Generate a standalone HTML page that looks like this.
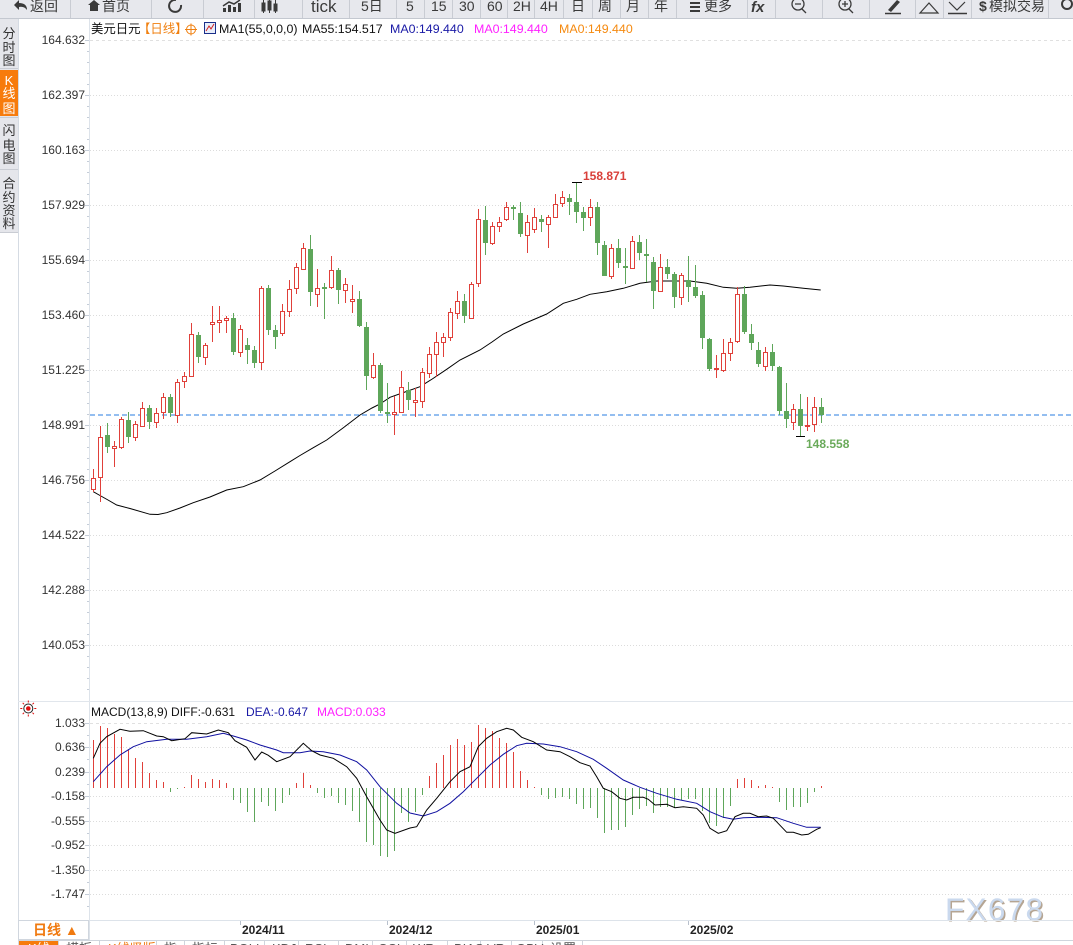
<!DOCTYPE html>
<html><head><meta charset="utf-8"><style>
html,body{margin:0;padding:0;background:#fff;overflow:hidden;}
#w{position:relative;width:1073px;height:945px;overflow:hidden;background:#fff;}
svg text{font-family:"Liberation Sans","Noto Sans CJK SC",sans-serif;}
</style></head><body><div id="w">
<svg width="1073" height="945" viewBox="0 0 1073 945" xmlns="http://www.w3.org/2000/svg">
<!-- toolbar -->
<rect x="0" y="0" width="1073" height="18" fill="#e7e8ed"/>
<line x1="0" y1="18.5" x2="1073" y2="18.5" stroke="#c4c8d0"/>
<g stroke="#c9ccd3" stroke-width="1">
<line x1="70.5" y1="0" x2="70.5" y2="18"/><line x1="151.5" y1="0" x2="151.5" y2="18"/><line x1="203.5" y1="0" x2="203.5" y2="18"/><line x1="254.5" y1="0" x2="254.5" y2="18"/><line x1="302.5" y1="0" x2="302.5" y2="18"/><line x1="349.5" y1="0" x2="349.5" y2="18"/><line x1="396.5" y1="0" x2="396.5" y2="18"/><line x1="424.5" y1="0" x2="424.5" y2="18"/><line x1="452.5" y1="0" x2="452.5" y2="18"/><line x1="480.5" y1="0" x2="480.5" y2="18"/><line x1="507.5" y1="0" x2="507.5" y2="18"/><line x1="534.5" y1="0" x2="534.5" y2="18"/><line x1="563.5" y1="0" x2="563.5" y2="18"/><line x1="592.5" y1="0" x2="592.5" y2="18"/><line x1="620.5" y1="0" x2="620.5" y2="18"/><line x1="648.5" y1="0" x2="648.5" y2="18"/><line x1="676.5" y1="0" x2="676.5" y2="18"/><line x1="747.5" y1="0" x2="747.5" y2="18"/><line x1="775.5" y1="0" x2="775.5" y2="18"/><line x1="822.5" y1="0" x2="822.5" y2="18"/><line x1="869.5" y1="0" x2="869.5" y2="18"/><line x1="915.5" y1="0" x2="915.5" y2="18"/><line x1="943.5" y1="0" x2="943.5" y2="18"/><line x1="971.5" y1="0" x2="971.5" y2="18"/><line x1="1048.5" y1="0" x2="1048.5" y2="18"/>
</g>
<g fill="#3a3a3a" font-size="14">
<path d="M14 5 L19 0 L19 3 Q27 3 27 10 Q24 6 19 7 L19 10 Z" fill="#3a3a3a"/>
<text x="30" y="11">返回</text>
<path d="M88 5 L94 0 L100 5 L98 5 L98 11 L90 11 L90 5 Z" fill="#3a3a3a"/>
<text x="102" y="11">首页</text>
<path d="M181 5 A6 6 0 1 1 176 0" fill="none" stroke="#3a3a3a" stroke-width="2"/>
<path d="M223 12 h3 v-4 h-3z M228 12 h3 v-7 h-3z M233 12 h3 v-5 h-3z M238 12 h3 v-9 h-3z" fill="#3a3a3a"/>
<path d="M223 6 L229 2 L234 4 L240 0" fill="none" stroke="#3a3a3a" stroke-width="1.5"/>
<path d="M262 3 h3 v8 h-3z M268 1 h3 v9 h-3z M274 4 h3 v7 h-3z M263.5 0 V13 M269.5 0 V13 M275.5 0 V13" fill="#3a3a3a" stroke="#3a3a3a"/>
<text x="311" y="12" font-size="17">tick</text>
<text x="361" y="11">5日</text>
<text x="406" y="11">5</text>
<text x="431" y="11">15</text>
<text x="459" y="11">30</text>
<text x="487" y="11">60</text>
<text x="513" y="11">2H</text>
<text x="540" y="11">4H</text>
<text x="571" y="11">日</text>
<text x="598" y="11">周</text>
<text x="626" y="11">月</text>
<text x="654" y="11">年</text>
<path d="M690 2 h10 v2 h-10z M690 6 h10 v2 h-10z M690 10 h10 v2 h-10z"/>
<text x="704" y="11">更多</text>
<text x="751" y="12" font-weight="bold" font-style="italic" font-size="15">fx</text>
<circle cx="798" cy="4" r="6" fill="none" stroke="#3a3a3a" stroke-width="1.3"/><path d="M795 4 h6 M802 9 l4 4" stroke="#3a3a3a" stroke-width="1.3"/>
<circle cx="845" cy="4" r="6" fill="none" stroke="#3a3a3a" stroke-width="1.3"/><path d="M842 4 h6 M845 1 v6 M849 9 l4 4" stroke="#3a3a3a" stroke-width="1.3"/>
<path d="M888 10 L897 0 L900 2 L891 12 Z" fill="#3a3a3a"/><path d="M885 13.5 h16" stroke="#3a3a3a" stroke-width="1.5"/>
<path d="M920 13 L929 3 L938 13 Z" fill="none" stroke="#3a3a3a" stroke-width="1.2"/>
<path d="M949 2 L957 10 L965 2" fill="none" stroke="#3a3a3a" stroke-width="1.2"/><path d="M948 13.5 h19" stroke="#3a3a3a" stroke-width="1.5"/>
<text x="979" y="11" font-weight="bold">$</text><text x="989" y="11">模拟交易</text>
<circle cx="1067" cy="4" r="5" fill="none" stroke="#3a3a3a" stroke-width="2"/>
</g>
<!-- left sidebar -->
<rect x="0" y="19" width="18" height="213" fill="#e5e6eb"/>
<rect x="0" y="70" width="18" height="46" fill="#f77b0c"/>
<g stroke="#c9ccd3"><line x1="0" y1="68.5" x2="18" y2="68.5"/><line x1="0" y1="117.5" x2="18" y2="117.5"/><line x1="0" y1="169.5" x2="18" y2="169.5"/><line x1="0" y1="232.5" x2="18" y2="232.5"/></g>
<line x1="18.5" y1="19" x2="18.5" y2="945" stroke="#d5dbe3"/>
<g font-size="13" text-anchor="middle" fill="#333">
<text x="9" y="38">分</text><text x="9" y="52">时</text><text x="9" y="65">图</text>
<text x="9" y="85" fill="#fff">K</text><text x="9" y="98" fill="#fff">线</text><text x="9" y="113" fill="#fff">图</text>
<text x="9" y="135">闪</text><text x="9" y="150">电</text><text x="9" y="163">图</text>
<text x="9" y="188">合</text><text x="9" y="202">约</text><text x="9" y="215">资</text><text x="9" y="228">料</text>
</g>
<!-- axis line -->
<line x1="89.5" y1="19" x2="89.5" y2="940" stroke="#dde3ea"/>
<!-- price grid -->
<g stroke="#dcdcdc" stroke-dasharray="1,2">
<line x1="90" y1="95.5" x2="1073" y2="95.5"/><line x1="90" y1="150.5" x2="1073" y2="150.5"/><line x1="90" y1="205.5" x2="1073" y2="205.5"/><line x1="90" y1="260.5" x2="1073" y2="260.5"/><line x1="90" y1="315.5" x2="1073" y2="315.5"/><line x1="90" y1="370.5" x2="1073" y2="370.5"/><line x1="90" y1="425.5" x2="1073" y2="425.5"/><line x1="90" y1="480.5" x2="1073" y2="480.5"/><line x1="90" y1="535.5" x2="1073" y2="535.5"/><line x1="90" y1="590.5" x2="1073" y2="590.5"/><line x1="90" y1="645.5" x2="1073" y2="645.5"/>
</g>
<line x1="90" y1="40.5" x2="1073" y2="40.5" stroke="#e0e0e0" stroke-dasharray="3,3"/>
<!-- price axis ticks -->
<g stroke="#c5cdd8">
<path d="M85 40.5h4M85 95.5h4M85 150.5h4M85 205.5h4M85 260.5h4M85 315.5h4M85 370.5h4M85 425.5h4M85 480.5h4M85 535.5h4M85 590.5h4M85 645.5h4"/>
<path d="M87 51.5h2M87 62.5h2M87 73.5h2M87 84.5h2M87 106.5h2M87 117.5h2M87 128.5h2M87 139.5h2M87 161.5h2M87 172.5h2M87 183.5h2M87 194.5h2M87 216.5h2M87 227.5h2M87 238.5h2M87 249.5h2M87 271.5h2M87 282.5h2M87 293.5h2M87 304.5h2M87 326.5h2M87 337.5h2M87 348.5h2M87 359.5h2M87 381.5h2M87 392.5h2M87 403.5h2M87 414.5h2M87 436.5h2M87 447.5h2M87 458.5h2M87 469.5h2M87 491.5h2M87 502.5h2M87 513.5h2M87 524.5h2M87 546.5h2M87 557.5h2M87 568.5h2M87 579.5h2M87 601.5h2M87 612.5h2M87 623.5h2M87 634.5h2M87 656.5h2M87 667.5h2M87 678.5h2M87 689.5h2"/>
</g>
<g font-size="12" fill="#333" text-anchor="end">
<text x="85" y="44">164.632</text><text x="85" y="99">162.397</text><text x="85" y="154">160.163</text><text x="85" y="209">157.929</text><text x="85" y="264">155.694</text><text x="85" y="319">153.460</text><text x="85" y="374">151.225</text><text x="85" y="429">148.991</text><text x="85" y="484">146.756</text><text x="85" y="539">144.522</text><text x="85" y="594">142.288</text><text x="85" y="649">140.053</text>
</g>
<!-- legend -->
<g font-size="12.4">
<text x="91" y="33" fill="#111">美元日元</text>
<text x="138" y="33" fill="#f08010">【日线】</text>
<circle cx="191" cy="29.5" r="4.5" fill="none" stroke="#f08010"/><path d="M185 29.5h12M191 23.5v12" stroke="#f08010"/>
<rect x="204.5" y="22.5" width="11" height="11" fill="#e8eefa" stroke="#1a2f8a"/>
<path d="M206 31 L209 26 L211 29 L214 24" fill="none" stroke="#d02020"/>
<text x="219" y="33" fill="#111">MA1(55,0,0,0)</text>
<text x="302" y="33" fill="#111">MA55:154.517</text>
<text x="390" y="33" fill="#1a1aa6">MA0:149.440</text>
<text x="474" y="33" fill="#ff20ff">MA0:149.440</text>
<text x="559" y="33" fill="#f58a10">MA0:149.440</text>
</g>
<!-- last price dashed -->
<line x1="90" y1="415" x2="1073" y2="415" stroke="#2a7de0" stroke-dasharray="5,3"/>
<!-- MA55 -->
<polyline fill="none" stroke="#000" stroke-width="1" points="93.3,491.7 100,495.5 108,500 116.7,505 130,508.5 150,514.3 158,514.5 166.7,512.7 180,508 193.3,502.7 210,497 226.7,490 243.3,486.7 260,480 275,471 290,461.7 300,455.5 313.3,447.7 326.7,440 343,428 360,415 372,408 380,404 390,397.3 405,392 420,386.7 433,378.5 446.7,369.3 460,360 480,350 492,342 503.3,334 523.3,324 546.7,314 563.3,303.3 576.7,299.3 590,294.3 606.7,291.7 623.3,288.3 640,283.3 656.7,281 690,281 706.7,283.3 723.3,287.3 736.7,288.3 750,287.3 770,285 783.3,286 803.3,288.3 820.7,290"/>
<!-- red candles -->
<path fill="none" stroke="#e0403a" stroke-width="1" d="M93.5 469V478M93.5 489V492M100.5 426V437M100.5 477V502M114.5 441V446M114.5 448V467M121.5 417V419M121.5 447V449M135.5 421V424M135.5 437V441M142.5 402V408M156.5 408V413M156.5 422V428M163.5 393V397M163.5 412V419M177.5 379V382M177.5 415V423M184.5 372V376M184.5 381V388M191.5 323V334M191.5 376V377M205.5 343V345M205.5 357V365M212.5 306V322M212.5 324V342M219.5 306V320M219.5 322V333M226.5 316V318M226.5 320V333M240.5 325V329M240.5 352V357M261.5 286V288M261.5 362V370M282.5 304V311M282.5 333V336M289.5 280V289M289.5 311V317M296.5 263V267M296.5 288V294M303.5 243V248M303.5 269V270M317.5 269V288M317.5 294V307M331.5 256V270M331.5 287V289M345.5 278V284M345.5 290V303M352.5 285V299M352.5 301V313M373.5 353V365M373.5 377V379M394.5 396V412M394.5 414V435M401.5 371V387M415.5 388V400M415.5 402V417M422.5 368V372M422.5 401V408M429.5 347V354M429.5 373V378M436.5 332V342M436.5 354V377M443.5 333V337M443.5 342V357M450.5 308V312M450.5 337V341M457.5 291V301M457.5 313V319M471.5 282V284M478.5 209V219M478.5 283V287M492.5 222V226M492.5 243V245M499.5 217V222M499.5 226V232M506.5 202V207M506.5 219V221M527.5 215V222M527.5 235V253M534.5 208V217M534.5 229V233M548.5 215V217M548.5 224V248M555.5 194V204M562.5 191V197M562.5 203V207M590.5 199V207M590.5 217V226M611.5 244V248M611.5 276V279M632.5 236V241M632.5 268V269M660.5 254V267M660.5 291V292M681.5 273V275M681.5 297V305M716.5 355V368M716.5 369V378M723.5 339V353M723.5 370V372M730.5 338V342M730.5 353V361M737.5 287V294M737.5 341V343M765.5 347V352M765.5 366V371M793.5 404V409M793.5 422V430M807.5 397V425M807.5 426V431M814.5 397V407M814.5 424V432"/>
<path fill="#fff" stroke="#e0403a" stroke-width="1" d="M91.5 478.5h4v11h-4zM98.5 437.5h4v40h-4zM112.5 446.5h4v2h-4zM119.5 419.5h4v28h-4zM133.5 424.5h4v13h-4zM140.5 408.5h4v18h-4zM154.5 413.5h4v9h-4zM161.5 397.5h4v15h-4zM175.5 382.5h4v33h-4zM182.5 376.5h4v5h-4zM189.5 334.5h4v42h-4zM203.5 345.5h4v12h-4zM210.5 322.5h4v2h-4zM217.5 320.5h4v2h-4zM224.5 318.5h4v2h-4zM238.5 329.5h4v23h-4zM259.5 288.5h4v74h-4zM280.5 311.5h4v22h-4zM287.5 289.5h4v22h-4zM294.5 267.5h4v21h-4zM301.5 248.5h4v21h-4zM315.5 288.5h4v6h-4zM329.5 270.5h4v17h-4zM343.5 284.5h4v6h-4zM350.5 299.5h4v2h-4zM371.5 365.5h4v12h-4zM392.5 412.5h4v2h-4zM399.5 387.5h4v25h-4zM413.5 400.5h4v2h-4zM420.5 372.5h4v29h-4zM427.5 354.5h4v19h-4zM434.5 342.5h4v12h-4zM441.5 337.5h4v5h-4zM448.5 312.5h4v25h-4zM455.5 301.5h4v12h-4zM469.5 284.5h4v34h-4zM476.5 219.5h4v64h-4zM490.5 226.5h4v17h-4zM497.5 222.5h4v4h-4zM504.5 207.5h4v12h-4zM525.5 222.5h4v13h-4zM532.5 217.5h4v12h-4zM546.5 217.5h4v7h-4zM553.5 204.5h4v13h-4zM560.5 197.5h4v6h-4zM588.5 207.5h4v10h-4zM609.5 248.5h4v28h-4zM630.5 241.5h4v27h-4zM658.5 267.5h4v24h-4zM679.5 275.5h4v22h-4zM714.5 368.5h4v1h-4zM721.5 353.5h4v17h-4zM728.5 342.5h4v11h-4zM735.5 294.5h4v47h-4zM763.5 352.5h4v14h-4zM791.5 409.5h4v13h-4zM805.5 425.5h4v1h-4zM812.5 407.5h4v17h-4z"/>
<!-- green candles -->
<path fill="none" stroke="#5ea65a" stroke-width="1" d="M107.5 423V453M128.5 412V443M149.5 405V429M170.5 394V417M198.5 332V363M233.5 313V355M247.5 338V364M254.5 346V368M268.5 285V335M275.5 325V349M310.5 235V306M324.5 283V319M338.5 268V304M359.5 291V327M366.5 322V390M380.5 363V413M387.5 383V423M408.5 382V410M464.5 294V323M485.5 206V255M513.5 205V220M520.5 202V237M541.5 215V232M569.5 194V215M576.5 182V223M583.5 207V231M597.5 202V255M604.5 241V276M618.5 239V268M625.5 248V284M639.5 235V260M646.5 239V282M653.5 257V309M667.5 259V279M674.5 272V308M688.5 256V302M695.5 265V298M702.5 291V349M709.5 338V371M744.5 286V334M751.5 324V350M758.5 342V367M772.5 344V371M779.5 366V415M786.5 383V428M800.5 394V436M821.5 398V423"/>
<path fill="#5ea65a" d="M105 435h5v12h-5zM126 420h5v17h-5zM147 408h5v14h-5zM168 397h5v16h-5zM196 335h5v22h-5zM231 318h5v34h-5zM245 345h5v5h-5zM252 350h5v13h-5zM266 288h5v42h-5zM273 330h5v7h-5zM308 249h5v43h-5zM322 287h5v2h-5zM336 270h5v20h-5zM357 299h5v27h-5zM364 327h5v49h-5zM378 365h5v46h-5zM385 412h5v2h-5zM406 390h5v10h-5zM462 301h5v15h-5zM483 220h5v23h-5zM511 207h5v2h-5zM518 213h5v21h-5zM539 219h5v3h-5zM567 198h5v4h-5zM574 202h5v10h-5zM581 212h5v6h-5zM595 207h5v36h-5zM602 245h5v31h-5zM616 248h5v15h-5zM623 266h5v2h-5zM637 242h5v11h-5zM644 254h5v2h-5zM651 262h5v29h-5zM665 267h5v7h-5zM672 274h5v23h-5zM686 280h5v7h-5zM693 287h5v9h-5zM700 295h5v43h-5zM707 339h5v30h-5zM742 294h5v38h-5zM749 334h5v9h-5zM756 350h5v14h-5zM770 352h5v14h-5zM777 367h5v44h-5zM784 411h5v8h-5zM798 409h5v17h-5zM819 407h5v8h-5z"/>
<!-- high/low markers -->
<path d="M572 182.5h10M796 436.5h9" stroke="#000" stroke-width="1"/>
<text x="583" y="180" font-size="12" font-weight="bold" fill="#d9403a">158.871</text>
<text x="806" y="448" font-size="12" font-weight="bold" fill="#6aaa5a">148.558</text>
<!-- separator -->
<line x1="18" y1="701.5" x2="1073" y2="701.5" stroke="#e1e6ec"/>
<!-- MACD icon -->
<g transform="translate(28.3,708.5)">
<circle r="4.5" fill="none" stroke="#222" stroke-width="1"/><circle r="2.3" fill="#e01010"/>
<path d="M0 -8v2M0 6v2M-8 0h2M6 0h2M-5.6 -5.6l1.4 1.4M4.2 4.2l1.4 1.4M-5.6 5.6l1.4 -1.4M4.2 -4.2l1.4 -1.4" stroke="#e01010" stroke-width="1"/>
</g>
<g font-size="12">
<text x="91" y="716" fill="#111">MACD(13,8,9) DIFF:-0.631</text>
<text x="246" y="716" fill="#1a1aa6">DEA:-0.647</text>
<text x="317" y="716" fill="#ff20ff">MACD:0.033</text>
</g>
<!-- MACD grid -->
<g stroke="#dcdcdc" stroke-dasharray="1,2">
<line x1="90" y1="747.5" x2="1073" y2="747.5"/><line x1="90" y1="772.5" x2="1073" y2="772.5"/><line x1="90" y1="796.5" x2="1073" y2="796.5"/><line x1="90" y1="821.5" x2="1073" y2="821.5"/><line x1="90" y1="845.5" x2="1073" y2="845.5"/><line x1="90" y1="870.5" x2="1073" y2="870.5"/><line x1="90" y1="894.5" x2="1073" y2="894.5"/>
</g>
<line x1="90" y1="723.5" x2="1073" y2="723.5" stroke="#e0e0e0" stroke-dasharray="3,3"/>
<g stroke="#c5cdd8">
<path d="M85 723.5h4M85 747.5h4M85 772.5h4M85 796.5h4M85 821.5h4M85 845.5h4M85 870.5h4M85 894.5h4"/>
<path d="M87 735.5h2M87 759.5h2M87 784.5h2M87 808.5h2M87 833.5h2M87 857.5h2M87 882.5h2M87 906.5h2"/>
</g>
<g font-size="12" fill="#333" text-anchor="end">
<text x="85" y="727">1.033</text><text x="85" y="751">0.636</text><text x="85" y="776">0.239</text><text x="85" y="800">-0.158</text><text x="85" y="825">-0.555</text><text x="85" y="849">-0.952</text><text x="85" y="874">-1.350</text><text x="85" y="898">-1.747</text>
</g>
<!-- MACD histogram -->
<path fill="none" stroke="#e0403a" stroke-width="1" d="M93.5 788V740M100.5 788V726M107.5 788V728M114.5 788V734M121.5 788V737M128.5 788V750M135.5 788V758M142.5 788V762M149.5 788V773M156.5 788V780M163.5 788V782M184.5 788V787M191.5 788V775M198.5 788V779M205.5 788V782M212.5 788V779M219.5 788V780M226.5 788V783M296.5 788V783M303.5 788V773M310.5 788V785M429.5 788V776M436.5 788V763M443.5 788V755M450.5 788V745M457.5 788V739M464.5 788V745M471.5 788V742M478.5 788V725M485.5 788V728M492.5 788V731M499.5 788V738M506.5 788V743M513.5 788V752M520.5 788V771M527.5 788V780M534.5 788V787M737.5 788V779M744.5 788V778M751.5 788V780M758.5 788V786M765.5 788V785M772.5 788V787M821.5 788V786"/>
<path fill="none" stroke="#5ea65a" stroke-width="1" d="M170.5 788V792M177.5 788V789M233.5 788V800M240.5 788V803M247.5 788V812M254.5 788V822M261.5 788V802M268.5 788V806M275.5 788V811M282.5 788V803M289.5 788V795M317.5 788V793M324.5 788V798M331.5 788V796M338.5 788V803M345.5 788V805M352.5 788V811M359.5 788V822M366.5 788V842M373.5 788V845M380.5 788V856M387.5 788V857M394.5 788V851M401.5 788V813M408.5 788V822M415.5 788V812M422.5 788V795M541.5 788V795M548.5 788V799M555.5 788V798M562.5 788V797M569.5 788V799M576.5 788V804M583.5 788V809M590.5 788V808M597.5 788V818M604.5 788V833M611.5 788V830M618.5 788V830M625.5 788V827M632.5 788V815M639.5 788V809M646.5 788V806M653.5 788V813M660.5 788V807M667.5 788V807M674.5 788V808M681.5 788V800M688.5 788V799M695.5 788V799M702.5 788V811M709.5 788V823M716.5 788V826M723.5 788V818M730.5 788V806M779.5 788V802M786.5 788V810M793.5 788V807M800.5 788V807M807.5 788V803M814.5 788V792"/>
<!-- DEA -->
<polyline fill="none" stroke="#1010a0" stroke-width="1" points="93.3,781.7 106.7,766.7 120,755 133.3,746.7 146.7,741.7 166.7,739.3 186.7,739.3 206.7,736.7 223.3,733.3 233.3,736 246.7,740 260,745 276.7,750 283.3,752.7 300,752.7 310,751 323.3,751.7 340,755 356.7,761.7 366.7,770 380,786.7 396.7,803.3 410,813 423.3,816 436.7,811.7 450,803.3 463.3,791.7 476.7,778.3 490,765 503.3,754.3 516.7,745.7 526.7,743.3 543.3,744 560,746.7 576.7,751.7 593.3,759.3 606.7,768.3 623.3,780 640,787.3 656.7,793.3 676.7,799.3 696.7,803.3 710,811.7 723.3,817.3 733.3,819.3 743.3,817.7 760,817.3 776.7,817.7 793.3,823.3 806.7,827.3 820.7,827.3"/>
<!-- DIFF -->
<polyline fill="none" stroke="#000" stroke-width="1" points="93.3,758.3 100,743.3 106.7,736.7 120,729.3 130,731.3 143.3,730.7 156.7,736 163.3,736.7 171.7,740.7 185,738.7 191.7,732.7 206.7,734 218.3,730 228.3,732.7 235,740.7 246.7,747.3 255,760 261.7,752 268.3,755.3 276.7,761.7 290,756.7 303.3,743.3 311.7,750.7 320,755 333.3,758.3 346.7,766.7 356.7,778.3 366.7,796.7 380,820 386.7,830 395,833.3 410,828 416.7,826.7 426.7,810 436.7,798.3 450,781.7 460,771.7 470,766.7 478.3,746.7 486.7,738.3 496.7,731.7 506.7,728.3 513.3,730 521.7,737.3 533.3,741.7 546.7,750 560,751.7 570,756.7 580,762.7 590,766 596.7,776.7 603.3,788.3 611.7,791.7 620,798.3 626.7,800 633.3,797.3 643.3,797.3 648.3,799.3 655,805 666.7,804.3 675,807.7 683.3,806.7 696.7,808.3 703.3,815 710,828.3 718.3,833.3 726.7,830.7 735,816.7 743.3,813.3 750,813.3 758.3,816.7 766.7,816 773.3,818.3 786.7,832.3 793.3,832.3 801.7,835 808.3,834.3 816.7,829.3 820.7,827.7"/>
<!-- watermark -->
<text x="946.5" y="921.5" font-size="31.5" letter-spacing="1.3" fill="#b5a593">FX678</text>
<text x="945" y="920" font-size="31.5" letter-spacing="1.3" fill="#cad9ee">FX678</text>
<!-- date axis -->
<line x1="18" y1="920.5" x2="1073" y2="920.5" stroke="#dde3ea"/>
<rect x="18.5" y="920.5" width="70" height="19" fill="#fff" stroke="#d0d6de"/>
<text x="33" y="935" font-size="14" font-weight="bold" fill="#f07a10">日线 ▲</text>
<g stroke="#b8c0cc"><path d="M240.5 921v4M387.5 921v4M534.5 921v4M688.5 921v4"/></g>
<g font-size="12" font-weight="bold" fill="#222">
<text x="242" y="934">2024/11</text><text x="389" y="934">2024/12</text><text x="536" y="934">2025/01</text><text x="690" y="934">2025/02</text>
</g>
<!-- bottom tabs -->
<line x1="18" y1="940.5" x2="1073" y2="940.5" stroke="#cfd5dd"/>
<rect x="19" y="941" width="39" height="4" fill="#f77b0c"/>
<g stroke="#cfd5dd"><path d="M58.5 941v4M99.5 941v4M156.5 941v4M184.5 941v4M224.5 941v4M264.5 941v4M298.5 941v4M338.5 941v4M372.5 941v4M406.5 941v4M447.5 941v4M480.5 941v4M511.5 941v4M542.5 941v4M582.5 941v4"/></g>
<g font-size="13">
<text x="28" y="953" fill="#fff">K线</text>
<text x="66" y="953" fill="#555">横板</text>
<text x="108" y="953" fill="#f07a10">K线竖版</text>
<text x="164" y="953" fill="#555">指</text>
<text x="192" y="953" fill="#555">指标</text>
<text x="230" y="953" fill="#555">BOLL</text>
<text x="272" y="953" fill="#555">KDJ</text>
<text x="305" y="953" fill="#555">RSI</text>
<text x="345" y="953" fill="#555">DMI</text>
<text x="378" y="953" fill="#555">CCI</text>
<text x="413" y="953" fill="#555">WR</text>
<text x="454" y="953" fill="#555">BIAS</text>
<text x="487" y="953" fill="#555">VR</text>
<text x="516" y="953" fill="#555">OBV</text>
<text x="550" y="953" fill="#555">设置</text>
</g>
</svg>
</div></body></html>
